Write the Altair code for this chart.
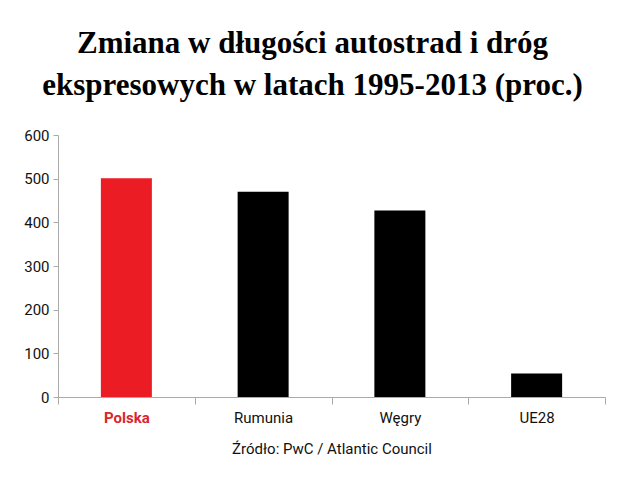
import altair as alt
import pandas as pd

countries = ["Polska", "Rumunia", "Węgry", "UE28"]
values = [501, 470, 427, 54]
colors = ["#ec1c24", "#000000", "#000000", "#000000"]

df = pd.DataFrame({"kraj": countries, "zmiana": values, "kolor": colors})

label_color = "datum.value == 'Polska' ? '#d9262e' : '#111111'"
label_weight = "datum.value == 'Polska' ? 'bold' : 'normal'"
sans = "Roboto, Liberation Sans, sans-serif"

chart = alt.Chart(df).mark_bar(size=51).encode(
    x=alt.X("kraj:N", sort=countries,
            scale=alt.Scale(paddingInner=0, paddingOuter=0),
            axis=alt.Axis(title="Źródło: PwC / Atlantic Council", labelAngle=0,
                          tickBand="extent", labelPadding=6, titlePadding=16,
                          labelFontSize=15, titleFontSize=15, titleFontWeight="normal",
                          labelColor=alt.ExprRef(expr=label_color),
                          labelFontWeight=alt.ExprRef(expr=label_weight),
                          titleColor="#111111",
                          labelFont=sans, titleFont=sans,
                          domainColor="#aaaaaa", tickColor="#aaaaaa", tickSize=7)),
    y=alt.Y("zmiana:Q", scale=alt.Scale(domain=[0, 600], nice=False),
            axis=alt.Axis(title=None, values=[0, 100, 200, 300, 400, 500, 600],
                          grid=False, labelFontSize=15, labelColor="#111111",
                          labelFont=sans, labelPadding=4,
                          domainColor="#aaaaaa", tickColor="#aaaaaa", tickSize=5)),
    color=alt.Color("kolor:N", scale=None),
).properties(
    width=547,
    height=262,
    background="white",
    autosize=alt.AutoSizeParams(type="none"),
    padding={"left": 50, "top": 127, "right": 12, "bottom": 78},
    title=alt.TitleParams(
        text=["Zmiana w długości autostrad i dróg", "ekspresowych w latach 1995-2013 (proc.)"],
        font="Liberation Serif", fontSize=31, fontWeight=900, color="#000000",
        anchor="middle", frame="group", dx=-19, offset=26, lineHeight=42,
    ),
).configure_view(stroke=None)

chart.save("out.html", embed_options={"renderer": "svg", "actions": False})
